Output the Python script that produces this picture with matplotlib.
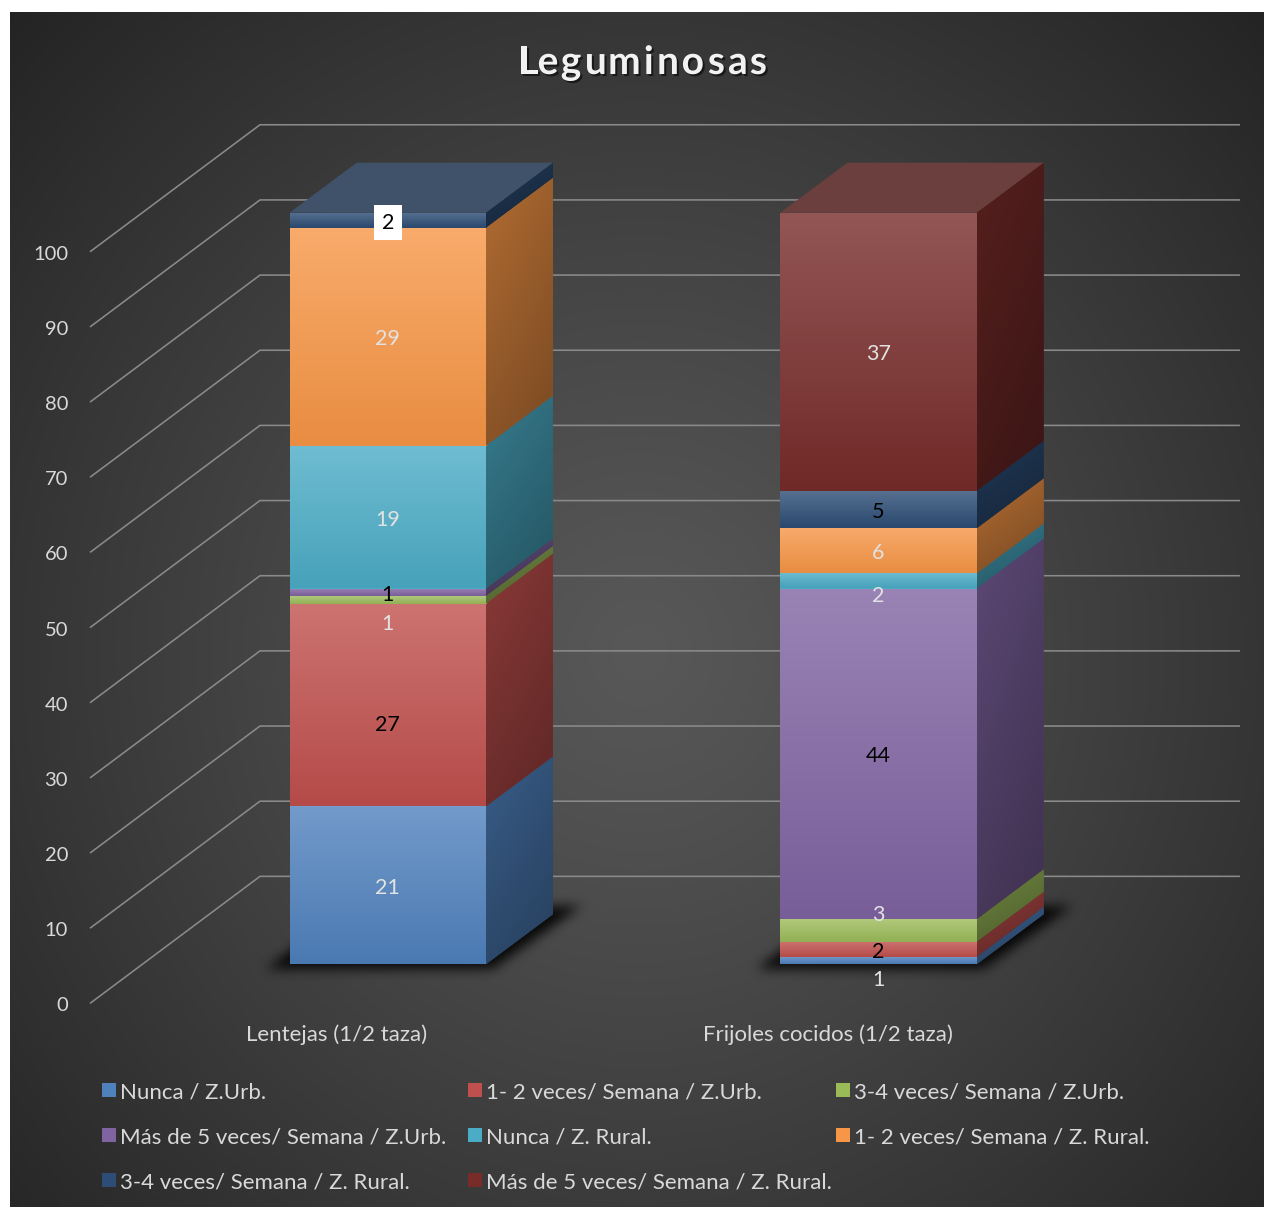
import numpy as np
import matplotlib
matplotlib.use("Agg")
import matplotlib.pyplot as plt
from matplotlib.patches import Polygon, Rectangle
from matplotlib.path import Path
from matplotlib.colors import to_rgb
from matplotlib.textpath import TextPath
from matplotlib.font_manager import FontProperties
import matplotlib.patheffects as pe

# ---------------------------------------------------------------- data
title = "Leguminosas"
categories = ["Lentejas (1/2 taza)", "Frijoles cocidos (1/2 taza)"]
series_labels = [
    "Nunca / Z.Urb.",
    "1- 2 veces/ Semana / Z.Urb.",
    "3-4 veces/ Semana / Z.Urb.",
    "Más de 5 veces/ Semana / Z.Urb.",
    "Nunca / Z. Rural.",
    "1- 2 veces/ Semana / Z. Rural.",
    "3-4 veces/ Semana / Z. Rural.",
    "Más de 5 veces/ Semana / Z. Rural.",
]
nunca_urb = [21, 1]
una_dos_urb = [27, 2]
tres_cuatro_urb = [1, 3]
mas_cinco_urb = [1, 44]
nunca_rural = [19, 2]
una_dos_rural = [29, 6]
tres_cuatro_rural = [2, 5]
mas_cinco_rural = [0, 37]
y_ticks = [0, 10, 20, 30, 40, 50, 60, 70, 80, 90, 100]

series_values = [nunca_urb, una_dos_urb, tres_cuatro_urb, mas_cinco_urb,
                 nunca_rural, una_dos_rural, tres_cuatro_rural, mas_cinco_rural]

# ---------------------------------------------------------------- style
colors = ["#4F81BD", "#C0504D", "#9BBB59", "#8064A2",
          "#4BACC6", "#F79646", "#2C4D75", "#772C2A"]
dark_label_series = {1, 3, 6}
label_light = "#e2e2e2"
# vertical nudges (pixels, positive = downwards) for crowded labels
label_nudge = {(0, 1): 18, (0, 2): 22, (1, 0): 17, (1, 2): -18, (1, 4): 13}
boxed_labels = {(0, 6)}

FONT = ["Lato", "DejaVu Sans"]
plt.rcParams["font.family"] = FONT
TEXT_DY = 2.5        # baseline correction for vertically centred text (px)

W, H = 1264, 1207
DPI = 100

# layout of the 3-D box projection
CX0 = 387.75        # pixel centre of the first category
STEP = 490.75       # pixels between categories
PPU = 7.516         # pixels per value unit
BASE_PY = 964.3     # pixel row of the bar floor
bar_width = 0.40
depth_dx = 67 / STEP
depth_dy = 50 / PPU
wall_back_dv = 11.7
wall_front_dv = -5.2
wall_front_x = (90 - CX0) / STEP
wall_back_x = (260 - CX0) / STEP
wall_right_x = (1240 - CX0) / STEP

X0, X1 = -CX0 / STEP, (W - CX0) / STEP
Y0, Y1 = (BASE_PY - H) / PPU, BASE_PY / PPU
DY = TEXT_DY / PPU

fig = plt.figure(figsize=(W / DPI, H / DPI), dpi=DPI, facecolor="white")

# ---------------------------------------------------------------- background
bg = fig.add_axes([10 / W, 0, (W - 10) / W, (H - 12) / H], zorder=0)
bh, bw = H - 12, W - 10
yy, xx = np.mgrid[0:bh, 0:bw]
d = np.hypot((xx - 630) / 1.0, (yy - 640) / 1.05)
t = np.clip(d / 900.0, 0, 1)
v = (88 - 54 * t ** 1.15) / 255.0
bg.imshow(np.dstack([v, v, v]), aspect="auto", interpolation="bilinear")
bg.set_axis_off()

# ---------------------------------------------------------------- main axes
ax = fig.add_axes([0, 0, 1, 1], zorder=1)
ax.set_facecolor("none")
ax.set_xlim(X0, X1)
ax.set_ylim(Y0, Y1)
ax.set_autoscale_on(False)
ax.set_axis_off()


def mix(c, other, f):
    c = np.array(to_rgb(c))
    o = np.array(to_rgb(other))
    return tuple(c * (1 - f) + o * f)


def scale(c, f):
    return tuple(np.clip(np.array(to_rgb(c)) * f, 0, 1))


def gradient_fill(patch, extent, top, bottom, z, horiz=None):
    n = 64
    f = np.linspace(0, 1, n)[:, None, None]
    img = np.array(top)[None, None, :] * (1 - f) + np.array(bottom)[None, None, :] * f
    if horiz is not None:
        g = np.linspace(0, 1, n)[None, :, None]
        img = np.clip(img * (1 - horiz * g), 0, 1)
    else:
        img = np.repeat(img, 2, axis=1)
    im = ax.imshow(img, extent=extent, origin="upper", aspect="auto",
                   interpolation="bilinear", zorder=z)
    im.set_clip_path(patch)


# gridlines: diagonal on the side wall, horizontal along the back wall
for tk in y_ticks:
    ax.plot([wall_front_x, wall_back_x, wall_right_x],
            [tk + wall_front_dv, tk + wall_back_dv, tk + wall_back_dv],
            color="#8a8a8a", lw=1.15, zorder=1, solid_capstyle="butt")
    ax.text((68 - CX0) / STEP, tk + wall_front_dv - DY, str(tk), ha="right",
            va="center", fontsize=14.5, color="#d9d9d9", zorder=5)

x_pos = np.arange(len(categories))

# soft floor shadow under each column
shadow_alpha = np.zeros((H, W))
gy, gx = np.mgrid[0:H, 0:W]
pts = np.column_stack([gx.ravel() + 0.5, gy.ravel() + 0.5])
for xc in x_pos:
    xl, xr = xc - bar_width / 2, xc + bar_width / 2
    corners = [(xl, 0), (xr, 0), (xr + depth_dx, depth_dy), (xl + depth_dx, depth_dy)]
    disp = ax.transData.transform(corners)
    pix = np.column_stack([disp[:, 0], H - disp[:, 1]])
    grow = np.array([[-24, 5], [6, 5], [28, -8], [-8, -8]])
    poly = Path(pix + grow)
    shadow_alpha += poly.contains_points(pts).reshape(H, W)


def box_blur(a, r):
    for axis in (0, 1):
        c = np.cumsum(np.pad(a, [(r + 1, r) if i == axis else (0, 0) for i in range(2)],
                             mode="edge"), axis=axis)
        if axis == 0:
            a = (c[2 * r + 1:, :] - c[:-2 * r - 1, :]) / (2 * r + 1)
        else:
            a = (c[:, 2 * r + 1:] - c[:, :-2 * r - 1]) / (2 * r + 1)
    return a


for _ in range(3):
    shadow_alpha = box_blur(shadow_alpha, 5)
shadow = np.zeros((H, W, 4))
shadow[..., 3] = np.clip(shadow_alpha, 0, 1) * 0.88
ax.imshow(shadow, extent=(X0, X1, Y0, Y1), origin="upper", aspect="auto",
          interpolation="bilinear", zorder=2)

# stacked columns
bottoms = np.zeros(len(categories))
top_series = {}
for si, vals in enumerate(series_values):
    vals = np.array(vals, dtype=float)
    bars = ax.bar(x_pos, vals, bar_width, bottom=bottoms, color=colors[si],
                  edgecolor="none", zorder=3)
    for ci, rect in enumerate(bars):
        h = vals[ci]
        if h <= 0:
            continue
        top_series[ci] = si
        x0, b = rect.get_x(), rect.get_y()
        x1, tp = x0 + rect.get_width(), b + h
        base = colors[si]
        # front face shading
        gradient_fill(rect, (x0, x1, b, tp), mix(base, "white", 0.2),
                      scale(base, 0.94), 3.1)
        # right-hand side face
        side = Polygon([(x1, b), (x1 + depth_dx, b + depth_dy),
                        (x1 + depth_dx, tp + depth_dy), (x1, tp)],
                       closed=True, facecolor=scale(base, 0.62), edgecolor="none",
                       zorder=3)
        ax.add_patch(side)
        gradient_fill(side, (x1, x1 + depth_dx, b, tp + depth_dy),
                      scale(base, 0.72), scale(base, 0.56), 3.1, horiz=0.12)
    bottoms = bottoms + vals

# top faces
for ci, si in top_series.items():
    xl, xr = x_pos[ci] - bar_width / 2, x_pos[ci] + bar_width / 2
    T = bottoms[ci]
    ax.add_patch(Polygon([(xl, T), (xl + depth_dx, T + depth_dy),
                          (xr + depth_dx, T + depth_dy), (xr, T)], closed=True,
                         facecolor=mix(colors[si], "#5a5a5a", 0.42), edgecolor="none",
                         zorder=3.2))

# data labels
cum = np.zeros(len(categories))
for si, vals in enumerate(series_values):
    for ci, val in enumerate(vals):
        if val > 0:
            yc = cum[ci] + val / 2 - label_nudge.get((ci, si), 0) / PPU - DY
            col = "black" if si in dark_label_series else label_light
            kw = {}
            if (ci, si) in boxed_labels:
                kw["bbox"] = dict(boxstyle="square,pad=0.36", fc="white", ec="none")
            ax.text(x_pos[ci], yc, str(val), ha="center", va="center",
                    fontsize=15.5, color=col, zorder=10, **kw)
    cum = cum + np.array(vals)

# category labels
for ci, name in enumerate(categories):
    ax.text(x_pos[ci] - 0.104, (BASE_PY - 1032) / PPU - DY, name, ha="center",
            va="center", fontsize=16, color="#d9d9d9", zorder=5)

# title, set letter by letter with extra tracking
title_fp = FontProperties(family=FONT, weight="bold", size=28)
spacing_px = 3.0
pt2px = DPI / 72.0
adv = [TextPath((0, 0), title[:i + 1], prop=title_fp).get_extents().width * pt2px
       for i in range(len(title))]
starts = [0.0] + adv[:-1]
total = adv[-1] + spacing_px * (len(title) - 1)
x_left = 643 - total / 2
shadow_fx = [pe.withSimplePatchShadow(offset=(1.5, -1.5), shadow_rgbFace="black",
                                      alpha=0.55)]
for i, ch in enumerate(title):
    fig.text((x_left + starts[i] + spacing_px * i) / W, 1 - (60 + TEXT_DY) / H, ch,
             ha="left", va="center", fontproperties=title_fp, color="#f2f2f2",
             path_effects=shadow_fx)

# legend (three columns)
col_marker_x = [102, 468, 836]
row_y = [1090, 1135, 1180]
for i, name in enumerate(series_labels):
    r, c = divmod(i, 3)
    mx, my = col_marker_x[c], row_y[r]
    fig.patches.append(Rectangle((mx / W, 1 - (my + 7) / H), 14 / W, 14 / H,
                                 transform=fig.transFigure, facecolor=colors[i],
                                 edgecolor="none", zorder=5))
    fig.text((mx + 18) / W, 1 - (my + TEXT_DY) / H, name, ha="left", va="center",
             fontsize=16, color="#d9d9d9")

fig.savefig("out.png", dpi=DPI, facecolor="white")
